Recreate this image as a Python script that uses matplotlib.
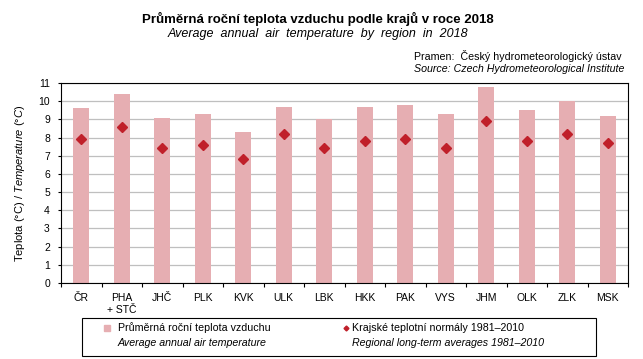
import matplotlib
matplotlib.use('Agg')
import matplotlib.pyplot as plt
import numpy as np
from matplotlib.lines import Line2D
from matplotlib.patches import Rectangle

plt.rcParams['font.family'] = ['Liberation Sans', 'DejaVu Sans']
plt.rcParams['mathtext.fontset'] = 'custom'
plt.rcParams['mathtext.rm'] = 'Liberation Sans'
plt.rcParams['mathtext.it'] = 'Liberation Sans:italic'

regions = ['ČR', 'PHA\n+ STČ', 'JHČ', 'PLK', 'KVK', 'ULK', 'LBK', 'HKK',
           'PAK', 'VYS', 'JHM', 'OLK', 'ZLK', 'MSK']
temp_2018 = [9.6, 10.4, 9.1, 9.3, 8.3, 9.7, 9.0, 9.7, 9.8, 9.3, 10.8, 9.5, 10.0, 9.2]
normals = [7.9, 8.6, 7.4, 7.6, 6.8, 8.2, 7.4, 7.8, 7.9, 7.4, 8.9, 7.8, 8.2, 7.7]

bar_color = '#e6aeb2'
dot_color = '#c0202a'

W, H = 643, 359
fig = plt.figure(figsize=(W / 100, H / 100), dpi=100)
ax = fig.add_axes([61 / W, 1 - 283 / H, (628 - 61) / W, 200 / H])

x = np.arange(len(regions))
ax.bar(x, temp_2018, width=0.4, color=bar_color, zorder=2)
ax.plot(x, normals, ls='none', marker='D', ms=5, color=dot_color, zorder=3)

ax.set_xlim(-0.5, len(regions) - 0.5)
ax.set_ylim(0, 11)
ax.set_yticks(range(12))
ax.yaxis.grid(True, color='#bfbfbf', lw=0.9)
ax.set_axisbelow(True)

# category boundaries get the tick marks, labels sit in between
ax.set_xticks(np.arange(len(regions) + 1) - 0.5)
ax.set_xticklabels([])
ax.set_xticks(x, minor=True)
ax.set_xticklabels(regions, minor=True, linespacing=1.3)
ax.tick_params(axis='x', which='major', direction='out', length=3, width=0.8)
ax.tick_params(axis='x', which='minor', length=0, pad=7, labelsize=7.5)
ax.tick_params(axis='y', direction='out', length=2, width=0.8, pad=6, labelsize=7.5)
for s in ax.spines.values():
    s.set_linewidth(0.8)

fig.text(20 / W, 1 - 183 / H, r'Teplota (°C) / $\it{Temperature\ (°C)}$',
         rotation=90, ha='center', va='center', fontsize=8)

fig.text(318 / W, 1 - 23 / H, 'Průměrná roční teplota vzduchu podle krajů v roce 2018',
         ha='center', va='baseline', fontsize=9.5, fontweight='bold')
fig.text(318 / W, 1 - 37 / H, 'Average  annual  air  temperature  by  region  in  2018',
         ha='center', va='baseline', fontsize=9, style='italic')
fig.text(414 / W, 1 - 60 / H, 'Pramen:  Český hydrometeorologický ústav',
         ha='left', va='baseline', fontsize=7.7)
fig.text(414 / W, 1 - 72 / H, 'Source: Czech Hydrometeorological Institute',
         ha='left', va='baseline', fontsize=7.7, style='italic')

# legend box drawn by hand (two-line labels, second line italic)
fig.add_artist(Rectangle((82 / W, 1 - 356 / H), 514 / W, 38 / H,
                         transform=fig.transFigure, fill=False, ec='black', lw=0.8))
fig.add_artist(Line2D([107 / W], [1 - 328 / H], ls='none', marker='s', ms=4,
                      color=bar_color, transform=fig.transFigure))
fig.add_artist(Line2D([346 / W], [1 - 328 / H], ls='none', marker='D', ms=2.5,
                      color=dot_color, transform=fig.transFigure))
fig.text(118 / W, 1 - 328 / H, 'Průměrná roční teplota vzduchu',
         va='center', fontsize=7.7)
fig.text(118 / W, 1 - 343 / H, 'Average annual air temperature',
         va='center', fontsize=7.7, style='italic')
fig.text(352 / W, 1 - 328 / H, 'Krajské teplotní normály 1981–2010',
         va='center', fontsize=7.7)
fig.text(352 / W, 1 - 343 / H, 'Regional long-term averages 1981–2010',
         va='center', fontsize=7.7, style='italic')

fig.savefig('out.png', dpi=100)
